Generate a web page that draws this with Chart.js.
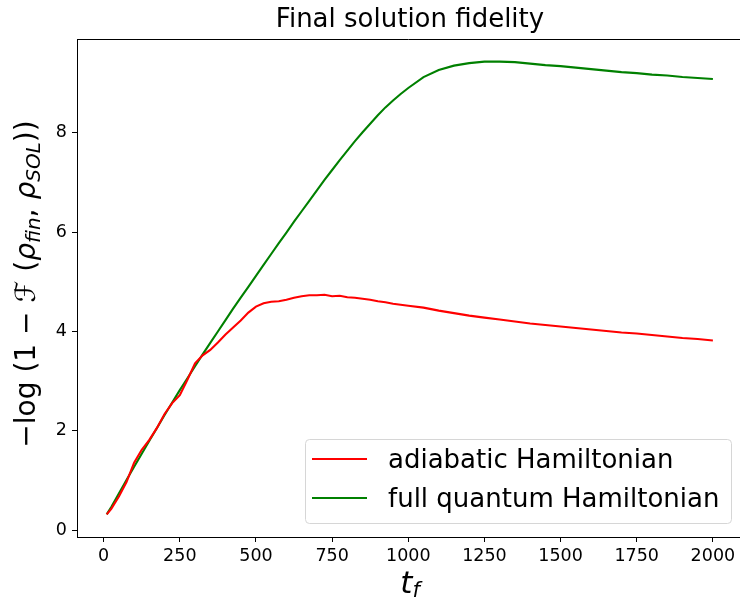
<!DOCTYPE html>
<html>
<head>
<meta charset="utf-8">
<script src="https://cdn.jsdelivr.net/npm/chart.js@4.4.1/dist/chart.umd.min.js"></script>
<style>
  html, body { margin: 0; padding: 0; background: #ffffff; }
  #wrap { width: 740px; height: 603px; position: relative; }
</style>
</head>
<body>
<div id="wrap"><canvas id="c" width="740" height="603"></canvas></div>
<script>
// ---- data ----
const tValues = [10, 25, 50, 75, 100, 125, 150, 175, 200, 225, 250, 275, 300, 325, 350, 375, 400, 425, 450, 475,
  500, 525, 550, 575, 600, 625, 650, 675, 700, 725, 750, 775, 800, 825, 850, 875, 900, 925, 950, 975, 1000,
  1050, 1100, 1150, 1200, 1250, 1300, 1350, 1400, 1450, 1500, 1550, 1600, 1650, 1700, 1750, 1800, 1850, 1900, 1950, 2000];

const adiabaticValues = [0.32, 0.43, 0.68, 0.97, 1.36, 1.62, 1.82, 2.06, 2.34, 2.56, 2.72, 3.03, 3.36, 3.52, 3.63, 3.78, 3.94, 4.08, 4.22, 4.38,
  4.50, 4.57, 4.60, 4.61, 4.64, 4.68, 4.71, 4.73, 4.73, 4.74, 4.71, 4.72, 4.69, 4.68, 4.66, 4.64, 4.61, 4.59, 4.56, 4.54, 4.52,
  4.48, 4.42, 4.37, 4.32, 4.28, 4.24, 4.20, 4.16, 4.13, 4.10, 4.07, 4.04, 4.01, 3.98, 3.96, 3.93, 3.90, 3.87, 3.85, 3.82];

const fullQuantumValues = [0.32, 0.47, 0.74, 1.01, 1.28, 1.54, 1.80, 2.06, 2.32, 2.57, 2.82, 3.06, 3.30, 3.54, 3.77, 4.00, 4.23, 4.46, 4.68, 4.90,
  5.12, 5.34, 5.56, 5.78, 5.99, 6.21, 6.42, 6.63, 6.84, 7.05, 7.25, 7.45, 7.64, 7.83, 8.01, 8.18, 8.35, 8.51, 8.65, 8.78, 8.90,
  9.12, 9.26, 9.35, 9.40, 9.43, 9.43, 9.42, 9.39, 9.36, 9.34, 9.31, 9.28, 9.25, 9.22, 9.20, 9.17, 9.15, 9.12, 9.10, 9.08];

const seriesLabels = ["adiabatic Hamiltonian", "full quantum Hamiltonian"];
const xTickValues = [0, 250, 500, 750, 1000, 1250, 1500, 1750, 2000];
const yTickValues = [0, 2, 4, 6, 8];
const chartTitle = "Final solution fidelity";

const FONT = "'DejaVu Sans', 'Liberation Sans', sans-serif";

const toPoints = (ys) => tValues.map((t, i) => ({ x: t, y: ys[i] }));

const decorPlugin = {
  id: 'decor',
  afterDraw(chart) {
    const ctx = chart.ctx;
    const a = chart.chartArea;
    ctx.save();
    // top spine
    ctx.strokeStyle = '#000';
    ctx.lineWidth = 1;
    ctx.beginPath();
    ctx.moveTo(a.left, a.top + 0.5);
    ctx.lineTo(a.right, a.top + 0.5);
    ctx.stroke();

    // title
    const cx = 410;
    ctx.fillStyle = '#000';
    ctx.font = '26px ' + FONT;
    ctx.textAlign = 'center';
    ctx.textBaseline = 'alphabetic';
    ctx.fillText(chartTitle, cx, 27);

    // x axis label: t_f
    ctx.textAlign = 'left';
    const tFont = 'italic 31px ' + FONT;
    const fFont = 'italic 21px ' + FONT;
    ctx.font = tFont;
    const wt = ctx.measureText('t').width;
    ctx.font = fFont;
    const wf = ctx.measureText('f').width;
    let x0 = cx - (wt + wf) / 2;
    ctx.font = tFont;
    ctx.fillText('t', x0, 593);
    ctx.font = fFont;
    ctx.fillText('f', x0 + wt, 597);

    // y axis label with subscripts, rotated
    const big = 28, small = 20;
    const parts = [
      { s: '\u2212log (1 \u2212 ', f: big + 'px ' + FONT, dy: 0 },
      { s: '\u2131', f: 'italic ' + big + 'px ' + FONT, dy: 0 },
      { s: ' (', f: big + 'px ' + FONT, dy: 0 },
      { s: '\u03C1', f: 'italic ' + big + 'px ' + FONT, dy: 0 },
      { s: 'fin', f: 'italic ' + small + 'px ' + FONT, dy: 5 },
      { s: ', ', f: big + 'px ' + FONT, dy: 0 },
      { s: '\u03C1', f: 'italic ' + big + 'px ' + FONT, dy: 0 },
      { s: 'SOL', f: 'italic ' + small + 'px ' + FONT, dy: 5 },
      { s: '))', f: big + 'px ' + FONT, dy: 0 }
    ];
    let total = 0;
    parts.forEach(p => { ctx.font = p.f; p.w = ctx.measureText(p.s).width; total += p.w; });
    ctx.translate(35, 284);
    ctx.rotate(-Math.PI / 2);
    let px = -total / 2;
    parts.forEach(p => {
      ctx.font = p.f;
      ctx.fillText(p.s, px, p.dy);
      px += p.w;
    });
    ctx.setTransform(1, 0, 0, 1, 0, 0);

    // legend
    const bx = 305.5, by = 439.5, bw = 426, bh = 84;
    ctx.beginPath();
    ctx.roundRect(bx, by, bw, bh, 4);
    ctx.fillStyle = 'rgba(255,255,255,0.8)';
    ctx.fill();
    ctx.strokeStyle = '#d6d6d6';
    ctx.lineWidth = 1;
    ctx.stroke();
    const rows = [459, 498];
    chart.data.datasets.forEach((ds, i) => {
      ctx.strokeStyle = ds.borderColor;
      ctx.lineWidth = 2.1;
      ctx.beginPath();
      ctx.moveTo(312, rows[i]);
      ctx.lineTo(367, rows[i]);
      ctx.stroke();
      ctx.fillStyle = '#000';
      ctx.font = '26px ' + FONT;
      ctx.textAlign = 'left';
      ctx.textBaseline = 'alphabetic';
      ctx.fillText(ds.label, 388, rows[i] + 9);
    });
    ctx.restore();
  }
};

new Chart(document.getElementById('c'), {
  type: 'line',
  data: {
    datasets: [
      { label: seriesLabels[0], data: toPoints(adiabaticValues), borderColor: '#ff0000', borderWidth: 2.1,
        pointRadius: 0, tension: 0, fill: false },
      { label: seriesLabels[1], data: toPoints(fullQuantumValues), borderColor: '#008000', borderWidth: 2.1,
        pointRadius: 0, tension: 0, fill: false }
    ]
  },
  options: {
    responsive: false,
    animation: false,
    events: [],
    layout: { padding: { left: 0, right: 0, top: 39, bottom: 0 } },
    plugins: { legend: { display: false }, title: { display: false }, tooltip: { enabled: false } },
    scales: {
      x: {
        type: 'linear',
        min: -87.5,
        max: 2089,
        afterBuildTicks: (s) => { s.ticks = xTickValues.map(v => ({ value: v })); },
        afterFit: (s) => { s.height = 66; },
        border: { display: true, color: '#000', width: 1 },
        grid: { drawOnChartArea: false, drawTicks: true, tickLength: 5, color: '#000', tickWidth: 1 },
        ticks: { color: '#000', font: { family: FONT, size: 17.5 }, padding: 4, maxRotation: 0, autoSkip: false,
                 callback: (v) => String(v) }
      },
      y: {
        type: 'linear',
        min: -0.135,
        max: 9.886,
        afterBuildTicks: (s) => { s.ticks = yTickValues.map(v => ({ value: v })); },
        afterFit: (s) => { s.width = 77; },
        border: { display: true, color: '#000', width: 1 },
        grid: { drawOnChartArea: false, drawTicks: true, tickLength: 5, color: '#000', tickWidth: 1 },
        ticks: { color: '#000', font: { family: FONT, size: 17.5 }, padding: 5, autoSkip: false,
                 callback: (v) => String(v) }
      }
    }
  },
  plugins: [decorPlugin]
});
</script>
</body>
</html>
